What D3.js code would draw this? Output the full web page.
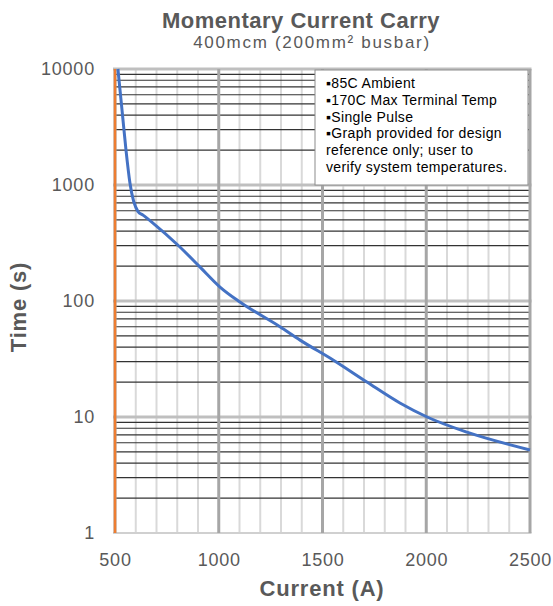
<!DOCTYPE html>
<html>
<head>
<meta charset="utf-8">
<script src="https://cdn.jsdelivr.net/npm/d3@7"></script>
<style>
  body { margin: 0; background: #fff; }
  text { font-family: "Liberation Sans", Arial, sans-serif; }
</style>
</head>
<body>
<div id="chart"></div>
<script>
// curve
const current = [514, 534, 553, 572, 611, 635, 683, 813, 910, 1006, 1102, 1295, 1392, 1551, 1714, 1873, 2004, 2196, 2500];
const time = [10000, 4400, 2000, 1040, 590, 550, 470, 292, 196, 132, 98, 60, 46, 31, 20, 13.2, 10, 7.4, 5.2];

// orange vertical series at 500 A
const limitCurrent = [500, 500];
const limitTime = [1, 10000];

const xTicks = [500, 1000, 1500, 2000, 2500];
const yTicks = [1, 10, 100, 1000, 10000];

const notes = [
  "\u25AA85C Ambient",
  "\u25AA170C Max Terminal Temp",
  "\u25AASingle Pulse",
  "\u25AAGraph provided for design",
  "reference only; user to",
  "verify system temperatures."
];

const width = 553, height = 606;
const margin = { top: 69, right: 23, bottom: 73, left: 115 };

const svg = d3.select("#chart").append("svg")
  .attr("width", width)
  .attr("height", height);

const x = d3.scaleLinear()
  .domain([500, 2500])
  .range([margin.left, width - margin.right]);

const y = d3.scaleLog()
  .domain([1, 10000])
  .range([height - margin.bottom, margin.top]);

const grid = svg.append("g");

// minor vertical lines every 100 A
grid.selectAll(".vminor")
  .data(d3.range(600, 2500, 100).filter(v => v % 500 !== 0))
  .join("line")
  .attr("x1", d => x(d)).attr("x2", d => x(d))
  .attr("y1", y(1)).attr("y2", y(10000))
  .attr("stroke", "#d9d9d9")
  .attr("stroke-width", 2);

// minor horizontal lines 2..9 per decade
const minorY = [];
[1, 10, 100, 1000].forEach(dec => { for (let k = 2; k <= 9; k++) minorY.push(dec * k); });
grid.selectAll(".hminor")
  .data(minorY)
  .join("line")
  .attr("x1", x(500)).attr("x2", x(2500))
  .attr("y1", d => y(d)).attr("y2", d => y(d))
  .attr("stroke", "#333")
  .attr("stroke-width", 1.2);

// major horizontal (decades)
grid.selectAll(".hmajor")
  .data(yTicks)
  .join("line")
  .attr("x1", x(500) - 2).attr("x2", x(2500) + 1.5)
  .attr("y1", d => y(d)).attr("y2", d => y(d))
  .attr("stroke", d => d === 1 ? "#d0d0d0" : "#bfbfbf")
  .attr("stroke-width", d => d === 1 ? 2 : 3);

// major vertical every 500 A
grid.selectAll(".vmajor")
  .data(xTicks)
  .join("line")
  .attr("x1", d => x(d)).attr("x2", d => x(d))
  .attr("y1", y(1)).attr("y2", y(10000))
  .attr("stroke", "#a6a6a6")
  .attr("stroke-width", 3);

// notes box
const box = svg.append("g");
box.append("rect")
  .attr("x", 315).attr("y", 70)
  .attr("width", x(2500) - 2 - 315).attr("height", 115)
  .attr("fill", "#fff")
  .attr("stroke", "#8c8c8c")
  .attr("stroke-width", 1);
box.selectAll("text")
  .data(notes)
  .join("text")
  .attr("x", 326)
  .attr("y", (d, i) => 88 + i * 16.8)
  .attr("font-size", "14px")
  .attr("letter-spacing", "0.35px")
  .attr("fill", "#000")
  .text(d => d);

// series
const line = d3.line()
  .x(d => x(d[0]))
  .y(d => y(d[1]))
  .curve(d3.curveMonotoneX);

svg.append("path")
  .datum(d3.zip(limitCurrent, limitTime))
  .attr("d", d3.line().x(d => x(d[0])).y(d => y(d[1])))
  .attr("stroke", "#ed7d31")
  .attr("stroke-width", 2.5)
  .attr("fill", "none");

svg.append("path")
  .datum(d3.zip(current, time))
  .attr("d", line)
  .attr("stroke", "#4472c4")
  .attr("stroke-width", 3)
  .attr("fill", "none");

// axes
const xAxis = svg.append("g")
  .attr("transform", `translate(0,${height - margin.bottom})`)
  .call(d3.axisBottom(x).tickValues(xTicks).tickSize(0).tickPadding(20).tickFormat(d3.format("d")));
xAxis.select(".domain").remove();
xAxis.selectAll("text")
  .attr("font-size", "18px")
  .attr("letter-spacing", "0.8px")
  .attr("fill", "#595959")
  .style("font-family", "Liberation Sans, Arial, sans-serif");

const yAxis = svg.append("g")
  .attr("transform", `translate(${margin.left},0)`)
  .call(d3.axisLeft(y).tickValues(yTicks).tickSize(0).tickPadding(20).tickFormat(d3.format("d")));
yAxis.select(".domain").remove();
yAxis.selectAll("text")
  .attr("font-size", "18px")
  .attr("letter-spacing", "0.8px")
  .attr("fill", "#595959")
  .style("font-family", "Liberation Sans, Arial, sans-serif");

// titles
svg.append("text")
  .attr("x", 301).attr("y", 28)
  .attr("text-anchor", "middle")
  .attr("font-size", "22px")
  .attr("letter-spacing", "0.5px")
  .attr("font-weight", "bold")
  .attr("fill", "#595959")
  .text("Momentary Current Carry");

svg.append("text")
  .attr("x", 312).attr("y", 48)
  .attr("text-anchor", "middle")
  .attr("font-size", "17px")
  .attr("letter-spacing", "1.7px")
  .attr("fill", "#595959")
  .text("400mcm (200mm\u00B2 busbar)");

svg.append("text")
  .attr("x", 322).attr("y", 596)
  .attr("text-anchor", "middle")
  .attr("font-size", "22px")
  .attr("letter-spacing", "0.8px")
  .attr("font-weight", "bold")
  .attr("fill", "#595959")
  .text("Current (A)");

svg.append("text")
  .attr("transform", "translate(26,307) rotate(-90)")
  .attr("text-anchor", "middle")
  .attr("font-size", "22px")
  .attr("letter-spacing", "0.8px")
  .attr("font-weight", "bold")
  .attr("fill", "#595959")
  .text("Time (s)");
</script>
</body>
</html>
